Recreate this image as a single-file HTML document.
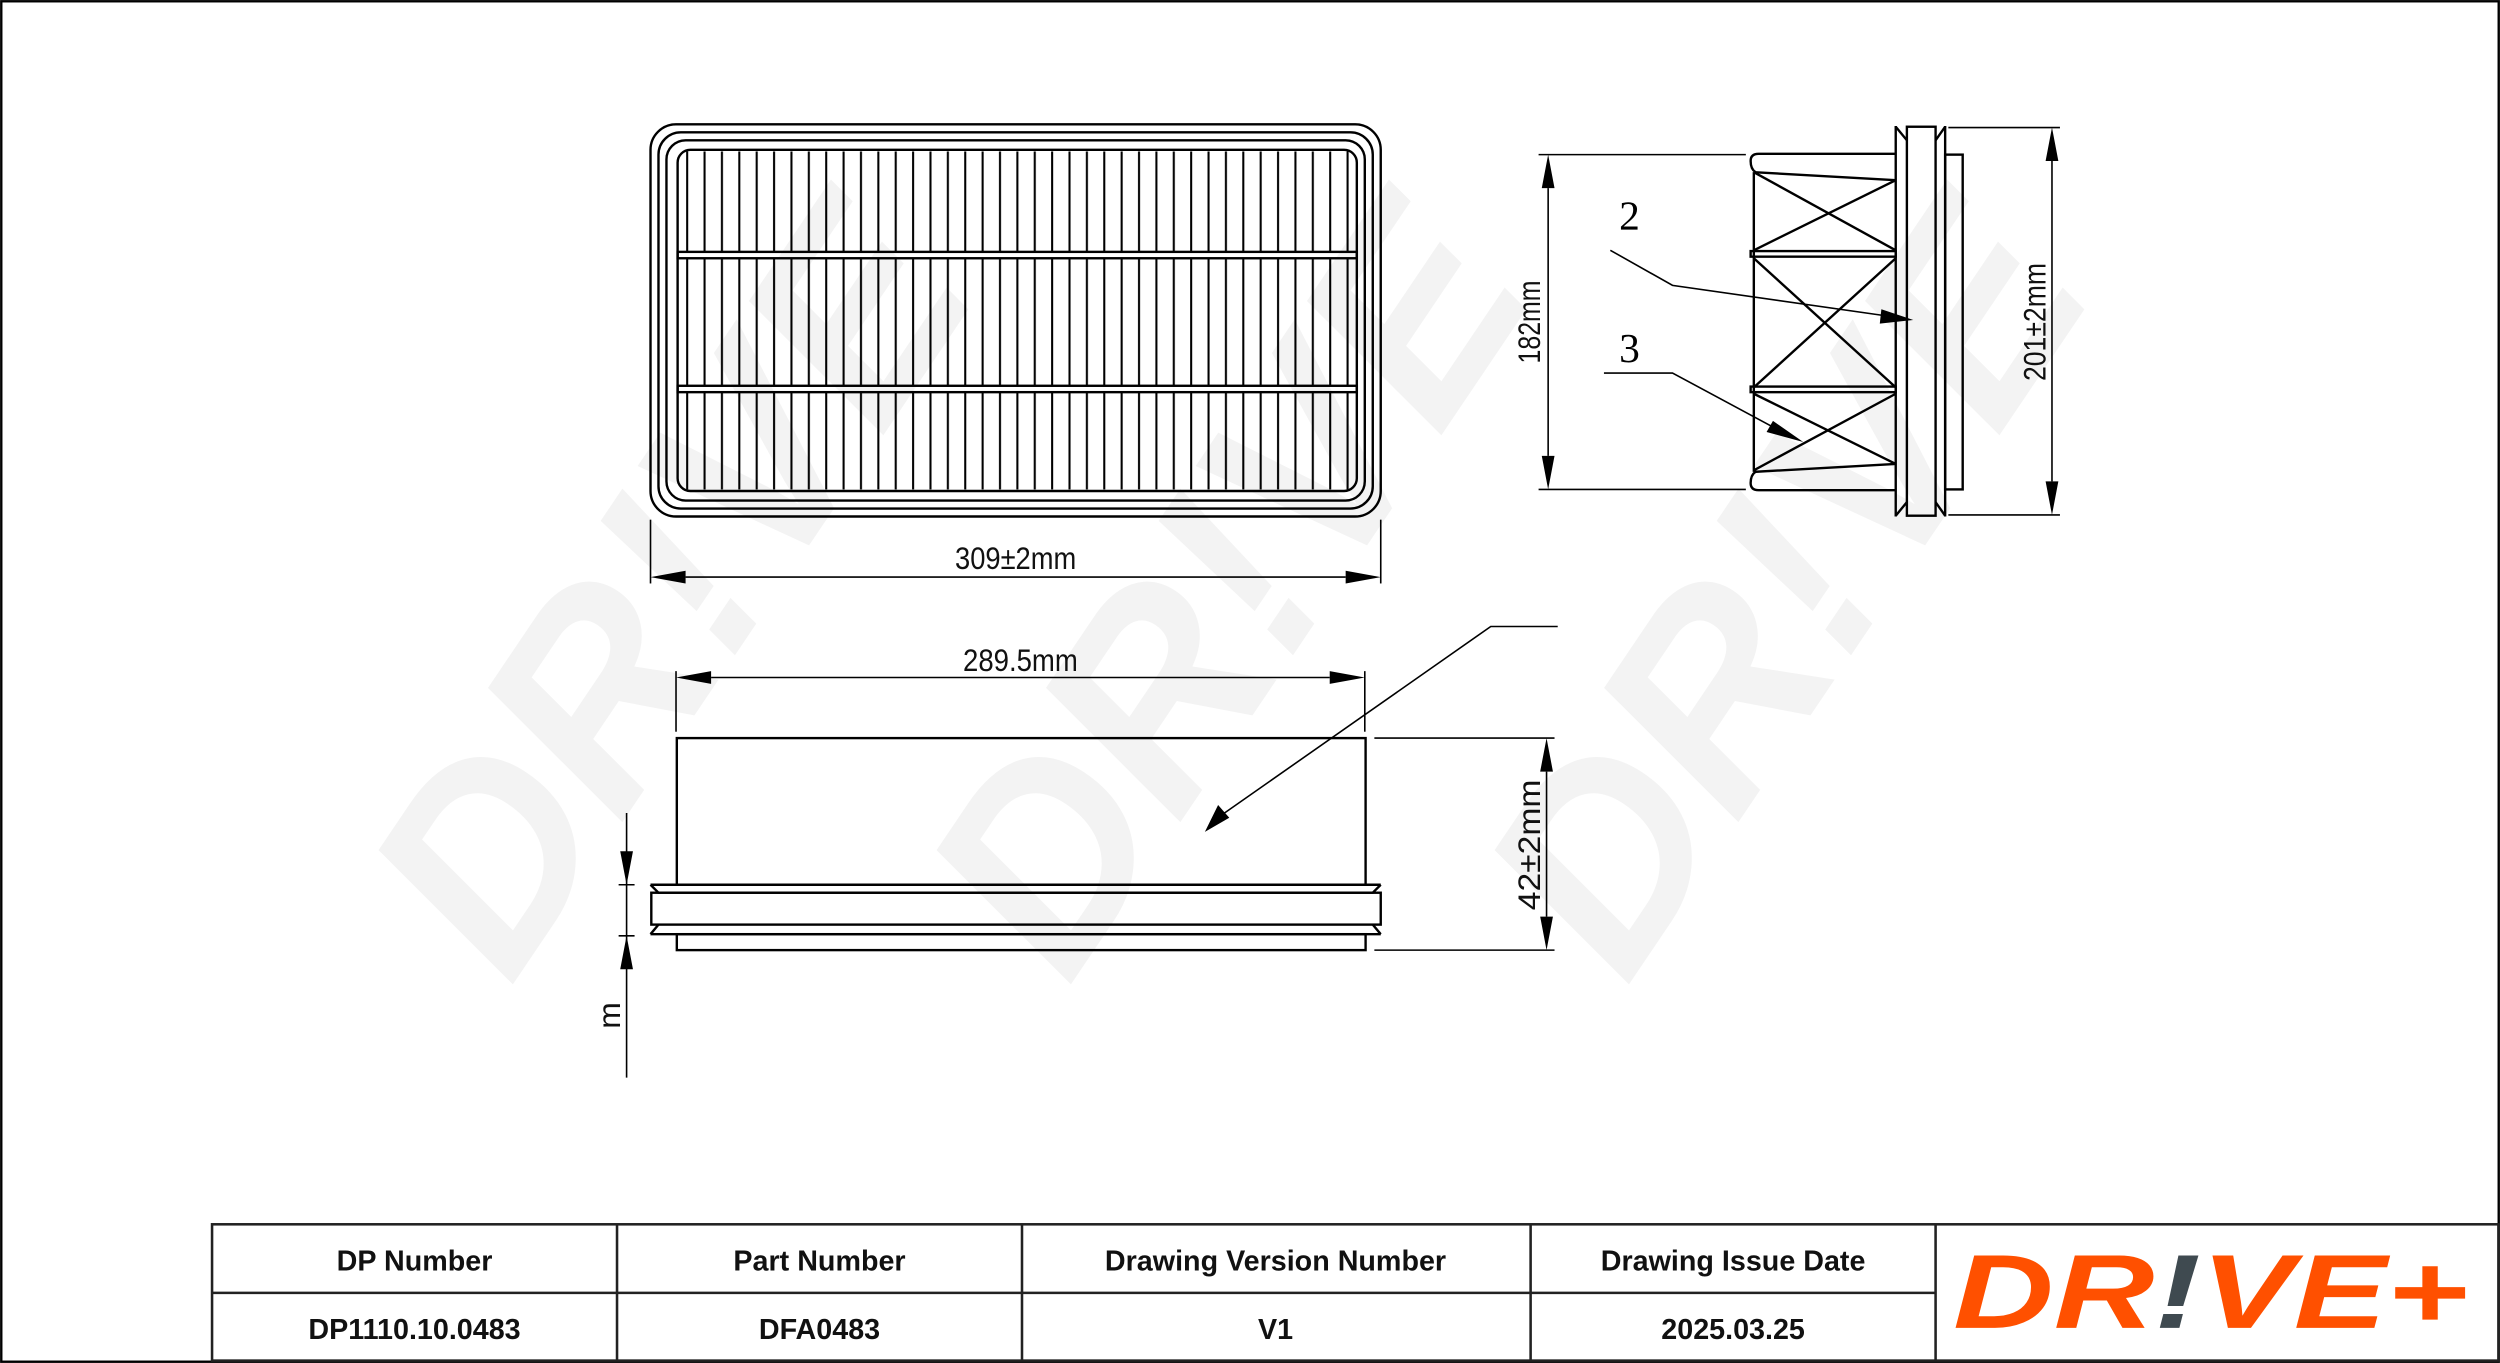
<!DOCTYPE html>
<html><head><meta charset="utf-8"><style>
html,body{margin:0;padding:0;background:#fff;}
svg{display:block;}
.d{font-family:"Liberation Sans Narrow","Liberation Sans",sans-serif;font-size:20px;fill:#111;}
.h{font-family:"Liberation Sans",sans-serif;font-weight:bold;font-size:18px;fill:#111;}
</style></head><body>
<svg width="2500" height="1363" viewBox="0 0 1568 855" preserveAspectRatio="none" xmlns="http://www.w3.org/2000/svg">
<defs>
<pattern id="pl" x="425" y="0" width="10.9" height="10" patternUnits="userSpaceOnUse">
<line x1="6" y1="0" x2="6" y2="10" stroke="#000" stroke-width="1.3"/>
</pattern>
</defs>
<rect width="1568" height="855" fill="#fff"/>
<!-- watermark -->
<g fill="#f3f3f3" font-family="Liberation Sans,sans-serif" font-weight="bold" font-style="italic" font-size="170">
<text x="0" y="0" transform="translate(320,620) rotate(-56)">DR!VE</text>
<text x="0" y="0" transform="translate(670,620) rotate(-56)">DR!VE</text>
<text x="0" y="0" transform="translate(1020,620) rotate(-56)">DR!VE</text>
</g>
<rect x="0.8" y="0.8" width="1566.4" height="853.4" fill="none" stroke="#000" stroke-width="1.5"/>

<g fill="none" stroke="#000" stroke-width="1.5">
<rect x="408" y="78" width="458" height="246" rx="16"/>
<rect x="413" y="83" width="448" height="236" rx="14"/>
<rect x="418" y="88" width="438" height="226" rx="12"/>
<rect x="425" y="94" width="426" height="214" rx="8"/>
<rect x="426" y="95" width="424" height="63" fill="url(#pl)" stroke="none"/>
<rect x="426" y="162" width="424" height="80" fill="url(#pl)" stroke="none"/>
<rect x="426" y="246" width="424" height="61" fill="url(#pl)" stroke="none"/>
<rect x="425" y="158" width="426" height="4"/>
<rect x="425" y="242" width="426" height="4"/>
<line x1="408" y1="326" x2="408" y2="366" stroke-width="1"/>
<line x1="866" y1="326" x2="866" y2="366" stroke-width="1"/>
<line x1="430" y1="362" x2="844" y2="362" stroke-width="1"/>
</g>
<path d="M408,362 L430,358 L430,366 Z M866,362 L844,358 L844,366 Z"/>
<text class="d" x="637" y="357" text-anchor="middle" textLength="76" lengthAdjust="spacingAndGlyphs">309±2mm</text>

<g fill="none" stroke="#000" stroke-width="1.5">
<line x1="965" y1="97" x2="1095" y2="97" stroke-width="1"/>
<line x1="965" y1="307" x2="1095" y2="307" stroke-width="1"/>
<line x1="971" y1="118" x2="971" y2="286" stroke-width="1"/>
<path d="M1189,96.5 L1103,96.5 Q1098,96.5 1098,101 Q1098,106 1101,108"/>
<path d="M1189,307.5 L1103,307.5 Q1098,307.5 1098,303 Q1098,298 1101,296"/>
<line x1="1100" y1="108" x2="1100" y2="296"/>
<line x1="1100" y1="108" x2="1189" y2="113"/>
<line x1="1100" y1="296" x2="1189" y2="291"/>
<line x1="1100" y1="108" x2="1189" y2="157"/>
<line x1="1100" y1="157" x2="1189" y2="113"/>
<line x1="1100" y1="162" x2="1189" y2="243"/>
<line x1="1100" y1="243" x2="1189" y2="162"/>
<line x1="1100" y1="247" x2="1189" y2="291"/>
<line x1="1100" y1="295" x2="1189" y2="247"/>
<rect x="1098" y="157.5" width="91" height="3.5"/>
<rect x="1098" y="242.5" width="91" height="3.5"/>
<line x1="1189" y1="79" x2="1189" y2="324"/>
<rect x="1196" y="79.5" width="18" height="244"/>
<path d="M1189,79.5 L1196,88 M1189,323.5 L1196,315 M1214,88 L1220,79.5 M1214,315 L1220,323.5"/>
<line x1="1220" y1="79" x2="1220" y2="324"/>
<rect x="1220" y="97" width="11" height="210"/>
<line x1="1222" y1="80" x2="1292" y2="80" stroke-width="1"/>
<line x1="1222" y1="323" x2="1292" y2="323" stroke-width="1"/>
<line x1="1287" y1="101" x2="1287" y2="302" stroke-width="1"/>
<polyline points="1010,157 1049,179 1182,198" stroke-width="1"/>
<polyline points="1006,234 1049,234 1116,270" stroke-width="1"/>
</g>
<path d="M971,97 L967,118 L975,118 Z M971,307 L967,286 L975,286 Z M1287,80 L1283,101 L1291,101 Z M1287,323 L1283,302 L1291,302 Z"/>
<path d="M1200,200.7 L1180,194 L1179,203 Z M1131,277.3 L1112,264 L1108,271 Z"/>
<text class="d" x="0" y="0" transform="translate(966,202) rotate(-90)" text-anchor="middle" textLength="52" lengthAdjust="spacingAndGlyphs">182mm</text>
<text class="d" x="0" y="0" transform="translate(1283,202) rotate(-90)" text-anchor="middle" textLength="74" lengthAdjust="spacingAndGlyphs">201±2mm</text>
<text x="1022" y="144" font-family="Liberation Serif,serif" font-size="26" text-anchor="middle">2</text>
<text x="1022" y="227" font-family="Liberation Serif,serif" font-size="26" text-anchor="middle">3</text>

<g fill="none" stroke="#000" stroke-width="1.5">
<line x1="424" y1="421" x2="424" y2="459" stroke-width="1"/>
<line x1="856" y1="421" x2="856" y2="459" stroke-width="1"/>
<line x1="446" y1="425" x2="834" y2="425" stroke-width="1"/>
<rect x="424.5" y="463" width="432" height="92"/>
<line x1="408" y1="555" x2="866" y2="555"/>
<path d="M408,555 L413,560 L861,560 L866,555"/>
<rect x="408.5" y="560" width="457.5" height="20"/>
<path d="M408,586 L413,580 M866,586 L861,580"/>
<line x1="408" y1="586" x2="866" y2="586"/>
<rect x="424.5" y="586" width="432" height="10"/>
<line x1="862" y1="463" x2="975" y2="463" stroke-width="1"/>
<line x1="862" y1="596" x2="975" y2="596" stroke-width="1"/>
<line x1="970" y1="484" x2="970" y2="575" stroke-width="1"/>
<polyline points="977,393 935,393 768,510" stroke-width="1"/>
<line x1="393" y1="510" x2="393" y2="676" stroke-width="1"/>
<line x1="388" y1="555" x2="398" y2="555" stroke-width="1"/>
<line x1="388" y1="587" x2="398" y2="587" stroke-width="1"/>
</g>
<path d="M424,425 L446,421 L446,429 Z M856,425 L834,421 L834,429 Z M970,463 L966,484 L974,484 Z M970,596 L966,575 L974,575 Z M755.7,521.8 L764,505 L771,513 Z M393,555 L389,534 L397,534 Z M393,587 L389,608 L397,608 Z"/>
<text class="d" x="640" y="421" text-anchor="middle" textLength="72" lengthAdjust="spacingAndGlyphs">289.5mm</text>
<text class="d" x="0" y="0" transform="translate(966,530) rotate(-90)" text-anchor="middle" textLength="82" lengthAdjust="spacingAndGlyphs">42±2mm</text>
<text class="d" x="0" y="0" transform="translate(389,637) rotate(-90)" text-anchor="middle">m</text>

<g fill="none" stroke="#222" stroke-width="1.6">
<rect x="133" y="768" width="1434" height="85.5"/>
<line x1="133" y1="811" x2="1214" y2="811"/>
<line x1="387" y1="768" x2="387" y2="854"/>
<line x1="641" y1="768" x2="641" y2="854"/>
<line x1="960" y1="768" x2="960" y2="854"/>
<line x1="1214" y1="768" x2="1214" y2="854"/>
</g>
<g class="h" text-anchor="middle">
<text class="h" x="260" y="797">DP Number</text>
<text class="h" x="514" y="797">Part Number</text>
<text class="h" x="800" y="797">Drawing Version Number</text>
<text class="h" x="1087" y="797">Drawing Issue Date</text>
<text class="h" x="260" y="840">DP1110.10.0483</text>
<text class="h" x="514" y="840">DFA0483</text>
<text class="h" x="800" y="840">V1</text>
<text class="h" x="1087" y="840">2025.03.25</text>
</g>
<text x="1225" y="833" font-family="Liberation Sans,sans-serif" font-weight="bold" font-style="italic" font-size="66" textLength="323" lengthAdjust="spacingAndGlyphs" fill="#ff5000">DR<tspan fill="#3f4a50">!</tspan>VE+</text>
</svg>
</body></html>
